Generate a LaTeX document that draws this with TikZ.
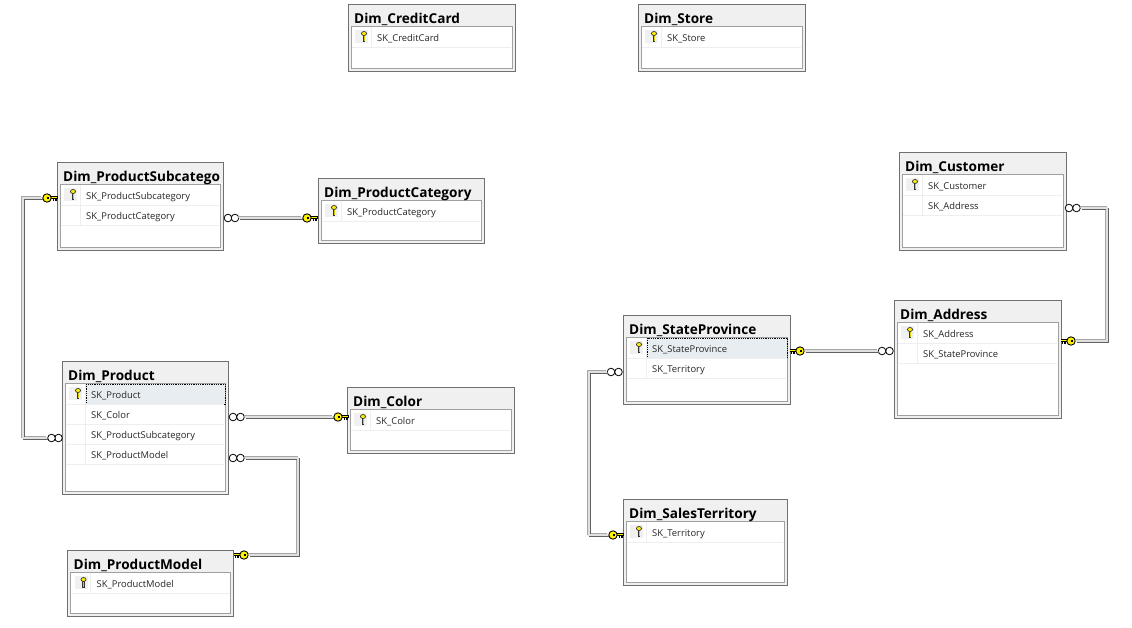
\documentclass[tikz,border=0pt]{standalone}
\usepackage{fontspec}
\setmainfont{Open Sans}
\definecolor{tborder}{HTML}{707070}
\definecolor{tinner}{HTML}{A0A0A0}
\definecolor{tband}{HTML}{F0F0F0}
\definecolor{tsep}{HTML}{EEEEEE}
\definecolor{tsel}{HTML}{E8EDF1}
\definecolor{keyyel}{HTML}{FFF200}
\tikzset{
  x=1pt,y=-1pt,
  tablebox/.style={draw=tborder,line width=.9pt,fill=tband,inner sep=0pt,outer sep=0pt,rectangle},
  tabletitle/.style={anchor=base west,inner sep=0pt,font=\fontsize{13.6}{15}\selectfont\bfseries,text=black},
  rowtext/.style={anchor=base west,inner sep=0pt,font=\fontsize{9.4}{11}\selectfont,text=black!85},
  selrow/.style={fill=tsel,draw=black,line width=.8pt,densely dotted},
  plainrow/.style={},
  keyhead/.style={circle,draw=black,line width=.9pt,fill=keyyel,inner sep=0pt,minimum size=8.4pt},
  ringend/.style={circle,draw=black,line width=.8pt,fill=white,inner sep=0pt,minimum size=7.6pt},
  connlight/.style={draw=black!35,line width=1.4pt,transform canvas={xshift=-1.1pt,yshift=1.1pt}},
  connmid/.style={draw=black!12,line width=1.2pt},
  conndark/.style={draw=black!62,line width=1.4pt,transform canvas={xshift=1.1pt,yshift=-1.1pt}},
}
% connector drawn three times: light edge, pale core, dark edge
\newcommand{\connector}[1]{%
  \draw[connlight] #1;
  \draw[conndark] #1;
  \draw[connmid] #1;
}
% #1 id, #2 x0, #3 y0, #4 x1, #5 y1, #6 title, #7 style of first row, #8 rows
\newcommand{\dbtable}[8]{%
  \pgfmathsetlengthmacro{\tw}{#4-#2}%
  \pgfmathsetlengthmacro{\th}{#5-#3}%
  \node[tablebox,minimum width=\tw,minimum height=\th] (#1) at ({(#2+#4)/2},{(#3+#5)/2}) {};
  \draw[draw=tinner,line width=1pt,fill=white] (#2+3,#3+22) rectangle (#4-3,#5-3);
  \node[tabletitle] (#1-title) at (#2+6,#3+19) {#6};
  \path[#7] (#2+24,#3+23) rectangle (#4-3,#3+43);
  \fill[tband] (#2+7,#3+26) rectangle (#2+20,#3+39);
  % small key of the primary-key row
  \fill[black!80] (#2+14.8,#3+30) rectangle (#2+17.2,#3+38);
  \fill[keyyel!85!black] (#2+15.6,#3+30) rectangle (#2+16.4,#3+37);
  \draw[black!80,fill=keyyel,line width=.7pt] (#2+16,#3+29.5) ellipse[x radius=2.6pt,y radius=2pt];
  \foreach \t [count=\i] in {#8}{
    \pgfmathsetmacro{\ry}{#3+23+20*\i}
    \pgfmathsetmacro{\rb}{\ry-6}
    \draw[tsep,line width=1pt] (#2+4,\ry) -- (#4-4,\ry);
    \draw[tsep,line width=1pt] (#2+23,\ry-20) -- (#2+23,\ry);
    \node[rowtext] (#1-row\i) at (#2+29,\rb+.5) {\t};
  }
}
% #1 name, #2 x, #3 y, #4 side (+1 shaft to right, -1 shaft to left)
\newcommand{\keyend}[4]{%
  \fill[black] (#2+#4*3.5,#3-1.6) rectangle (#2+#4*10.5,#3+1.2);
  \fill[black] (#2+#4*5.5,#3) rectangle (#2+#4*6.8,#3+2.6);
  \fill[black] (#2+#4*8.2,#3) rectangle (#2+#4*9.5,#3+2.6);
  \fill[keyyel] (#2+#4*3.5,#3-.7) rectangle (#2+#4*9.8,#3+.4);
  \node[keyhead] (#1) at (#2,#3) {};
  \fill[black] (#2-.5,#3-.8) rectangle (#2+1.5,#3+.5);
}
% #1 name of the ring the line meets, #2 its x, #3 y, #4 x of the other ring
\newcommand{\ringsend}[4]{%
  \node[ringend] (#1-b) at (#4,#3) {};
  \node[ringend] (#1) at (#2,#3) {};
}
\begin{document}
\begin{tikzpicture}
\useasboundingbox[fill=white] (0,0) rectangle (1132,627);

\dbtable{credit}{348}{4}{515}{71}{Dim\_CreditCard}{plainrow}{SK\_CreditCard}
\dbtable{store}{638}{4}{805}{71}{Dim\_Store}{plainrow}{SK\_Store}
\dbtable{subcat}{57}{162}{223}{250}{Dim\_ProductSubcatego}{plainrow}{SK\_ProductSubcategory,SK\_ProductCategory}
\dbtable{cat}{318}{178}{484}{243}{Dim\_ProductCategory}{plainrow}{SK\_ProductCategory}
\dbtable{customer}{899}{152}{1066}{250}{Dim\_Customer}{plainrow}{SK\_Customer,SK\_Address}
\dbtable{address}{894}{300}{1061}{418}{Dim\_Address}{plainrow}{SK\_Address,SK\_StateProvince}
\dbtable{state}{623}{315}{790}{404}{Dim\_StateProvince}{selrow}{SK\_StateProvince,SK\_Territory}
\dbtable{product}{62}{361}{228}{494}{Dim\_Product}{selrow}{SK\_Product,SK\_Color,SK\_ProductSubcategory,SK\_ProductModel}
\dbtable{color}{347}{387}{514}{453}{Dim\_Color}{plainrow}{SK\_Color}
\dbtable{territory}{623}{499}{787}{585}{Dim\_SalesTerritory}{plainrow}{SK\_Territory}
\dbtable{model}{67.5}{550}{233.5}{616}{Dim\_ProductModel}{plainrow}{SK\_ProductModel}

% terminators
\keyend{kSubcat}{47}{198}{1}
\ringsend{rProdSub}{51.5}{438}{58.5}
\ringsend{rSubCat}{235}{218}{228}
\keyend{kCat}{307}{218}{1}
\ringsend{rColor}{240.5}{417}{233}
\keyend{kColor}{338}{417}{1}
\ringsend{rModel}{240.5}{458}{233}
\keyend{kModel}{244}{555}{-1}
\keyend{kState}{800}{351}{-1}
\ringsend{rAddr}{882}{351}{889.5}
\ringsend{rCust}{1076.5}{208}{1069}
\keyend{kAddr}{1071}{341}{-1}
\ringsend{rState}{611}{372}{618.5}
\keyend{kTerr}{613}{535}{1}

% bend guides
\coordinate (bSub) at (23,300);
\coordinate (bModel) at (298,500);
\coordinate (bAddr) at (1107,270);
\coordinate (bTerr) at (589,450);

% connectors
\connector{(kSubcat.west) -| (bSub) |- (rProdSub.west)}
\connector{(rSubCat.east) -- (kCat.west)}
\connector{(rColor.east) -- (kColor.west)}
\connector{(rModel.east) -| (bModel) |- (kModel.east)}
\connector{(kState.east) -- (rAddr.west)}
\connector{(rCust.east) -| (bAddr) |- (kAddr.east)}
\connector{(rState.west) -| (bTerr) |- (kTerr.west)}
\end{tikzpicture}
\end{document}
